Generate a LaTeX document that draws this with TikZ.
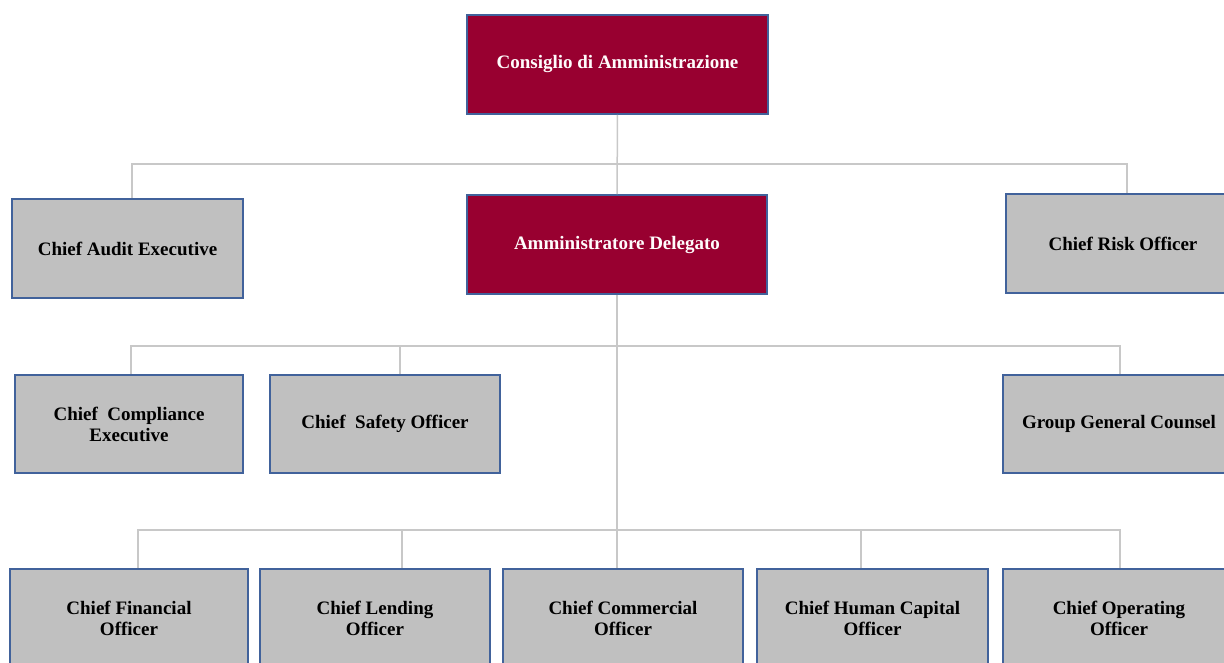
\documentclass[tikz,border=0pt]{standalone}
\usepackage{fontspec}
\setmainfont{Liberation Serif}
\definecolor{boardred}{RGB}{152,0,48}
\definecolor{boxgray}{RGB}{192,192,192}
\definecolor{edgeblue}{RGB}{65,98,155}
\definecolor{linegray}{RGB}{200,200,200}

\begin{document}
\begin{tikzpicture}[x=1pt, y=-1pt,
    box/.style = {draw=edgeblue, line width=1.6pt, fill=boxgray, align=center,
                  font=\fontsize{19}{21}\selectfont\bfseries, text=black},
    redbox/.style = {box, fill=boardred, text=white!95!pink},
    link/.style = {draw=linegray, line width=1.5pt}]
    \useasboundingbox (0,0) rectangle (1224,662);
    \clip (0,0) rectangle (1224,662);

    % top level
    \node[redbox, minimum width=301pt, minimum height=99pt] (cda) at (617.5,64.5) {Consiglio di Amministrazione};
    \node[redbox, minimum width=300pt, minimum height=99pt] (ad) at (617,244.5) {Amministratore Delegato};
    \node[box, minimum width=231pt, minimum height=99pt] (audit) at (127.5,248.5) {Chief Audit Executive};
    \node[box, minimum width=234pt, minimum height=99pt] (risk) at (1123,243.5) {Chief Risk Officer};

    % staff level
    \node[box, minimum width=228pt, minimum height=98pt] (comp) at (129,424) {Chief\ \ Compliance\\Executive};
    \node[box, minimum width=230pt, minimum height=98pt] (safety) at (385,424) {Chief\ \ Safety Officer};
    \node[box, minimum width=232pt, minimum height=98pt] (ggc) at (1119,424) {Group General Counsel};

    % line level
    \node[box, minimum width=238pt, minimum height=99pt] (cfo) at (129,618.5) {Chief Financial\\Officer};
    \node[box, minimum width=230pt, minimum height=99pt] (clo) at (375,618.5) {Chief Lending\\Officer};
    \node[box, minimum width=240pt, minimum height=99pt] (cco) at (623,618.5) {Chief Commercial\\Officer};
    \node[box, minimum width=231pt, minimum height=99pt] (chco) at (872.5,618.5) {Chief Human Capital\\Officer};
    \node[box, minimum width=232pt, minimum height=99pt] (coo) at (1119,618.5) {Chief Operating\\Officer};

    \coordinate (bus1) at (618,164);
    \coordinate (bus2) at (618,346);
    \coordinate (bus3) at (618,530);

    \draw[link] (cda) -- (ad);
    \draw[link] ([xshift=4.5pt]audit.north) |- (bus1) -| ([xshift=4pt]risk.north);
    \draw[link] ([xshift=2pt]comp.north) |- (bus2) -| ([xshift=1pt]ggc.north);
    \draw[link] ([xshift=15pt]safety.north) |- (bus2);
    \draw[link] (ad) -- (ad |- cco.north);
    \draw[link] ([xshift=9pt]cfo.north) |- (bus3) -| ([xshift=1pt]coo.north);
    \draw[link] ([xshift=27pt]clo.north) |- (bus3);
    \draw[link] ([xshift=-11.5pt]chco.north) |- (bus3);
\end{tikzpicture}
\end{document}
